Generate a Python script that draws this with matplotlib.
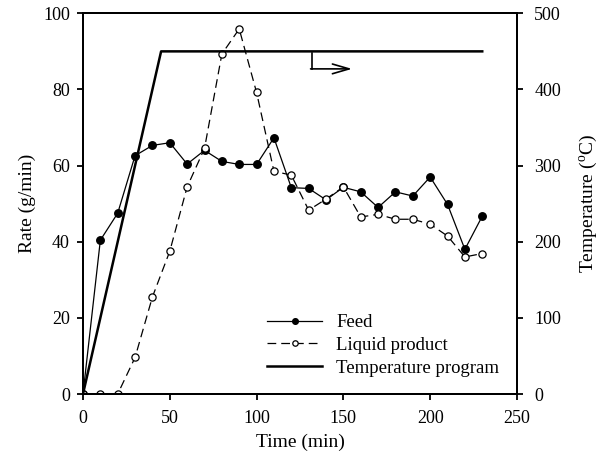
import numpy as np
import matplotlib
matplotlib.use("Agg")
import matplotlib.pyplot as plt

plt.rcParams['font.family'] = ['Liberation Serif', 'DejaVu Serif']
plt.rcParams['mathtext.fontset'] = 'custom'
plt.rcParams['mathtext.rm'] = 'Liberation Serif'
plt.rcParams['mathtext.it'] = 'Liberation Serif:italic'

# === Data ===
time = [0, 10, 20, 30, 40, 50, 60, 70, 80, 90, 100, 110, 120, 130, 140, 150,
        160, 170, 180, 190, 200, 210, 220, 230]
feed = [0, 40.4, 47.5, 62.6, 65.3, 66.0, 60.4, 64.0, 61.1, 60.3, 60.3, 67.3,
        54.2, 54.0, 51.0, 54.3, 53.1, 49.0, 53.1, 52.0, 57.0, 49.8, 38.0, 46.7]
liquid = [0, 0, 0, 9.6, 25.5, 37.5, 54.4, 64.5, 89.3, 95.9, 79.2, 58.5,
          57.5, 48.3, 51.2, 54.4, 46.5, 47.2, 45.9, 45.9, 44.6, 41.5, 36.0, 36.9]
temp_time = [0, 45, 230]
temp_prog = [0, 450, 450]

fig = plt.figure(figsize=(6.04, 4.70), dpi=100)
ax = fig.add_axes([0.1374, 0.1617, 0.7185, 0.81])
ax2 = ax.twinx()

ax.plot(time, feed, color='black', lw=0.9, marker='o', ms=5.4,
        mfc='black', mec='black', label='Feed')
ax.plot(time, liquid, color='black', lw=0.9, dashes=(7, 4), marker='o', ms=5.2,
        mfc='white', mec='black', mew=0.9, label='Liquid product')
t_line, = ax2.plot(temp_time, temp_prog, color='black', lw=1.8,
                   label='Temperature program')

# arrow pointing to the right axis
ax.plot([131.7, 131.7], [89.6, 85.4], color='black', lw=1.2)
ax.annotate('', xy=(155, 85.4), xytext=(131.1, 85.4),
            arrowprops=dict(arrowstyle='->,head_length=1.2,head_width=0.35',
                            color='black', lw=1.2, shrinkA=0, shrinkB=0))

ax.set_xlim(0, 250)
ax.set_ylim(0, 100)
ax2.set_ylim(0, 500)
ax.set_xticks(np.arange(0, 251, 50))
ax.set_yticks(np.arange(0, 101, 20))
ax2.set_yticks(np.arange(0, 501, 100))

for a in (ax, ax2):
    a.tick_params(direction='out', length=4.5, width=1.3, labelsize=13)
    for s in a.spines.values():
        s.set_linewidth(1.4)
ax.tick_params(axis='x', pad=7)
ax.tick_params(axis='y', pad=5)
ax2.tick_params(pad=8)

ax.set_xlabel('Time (min)', fontsize=14, labelpad=5)
ax.set_ylabel('Rate (g/min)', fontsize=14, labelpad=5)
ax2.set_ylabel(r'Temperature ($^{\mathrm{o}}$C)', fontsize=14, labelpad=12)

handles = ax.get_lines()[:2] + [t_line]
ax.legend(handles, ['Feed', 'Liquid product', 'Temperature program'],
          loc='center left', bbox_to_anchor=(0.424, 0.128), frameon=False,
          fontsize=13.5, borderpad=0, borderaxespad=0, handlelength=2.95,
          handletextpad=0.75, labelspacing=0.3, markerscale=0.75)

fig.savefig('out.png', dpi=100)
